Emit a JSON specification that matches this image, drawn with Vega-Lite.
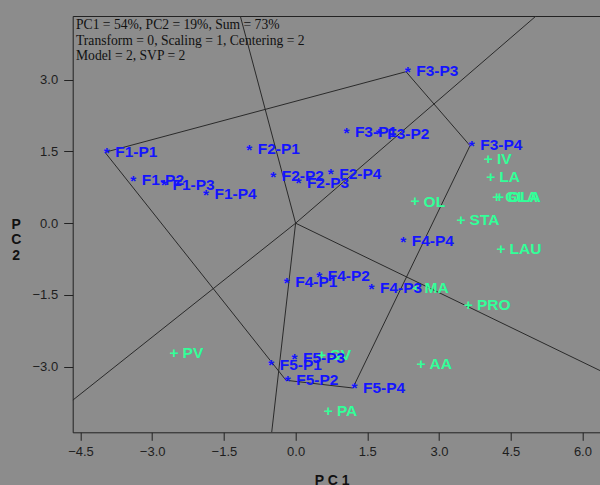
{
  "$schema": "https://vega.github.io/schema/vega-lite/v6.json",
  "width": 527.3,
  "height": 416.3,
  "autosize": "none",
  "padding": {"left": 72.7, "top": 16, "right": 0, "bottom": 52.7},
  "background": "#8c8c8c",
  "config": {
    "view": {"stroke": null, "fill": "#8c8c8c"},
    "axis": {"grid": false}
  },
  "datasets": {
    "pts": [
      {"name": "F1-P1", "grp": "F", "pc1": -3.987, "pc2": 1.482},
      {"name": "F1-P2", "grp": "F", "pc1": -3.431, "pc2": 0.890},
      {"name": "F1-P3", "grp": "F", "pc1": -2.789, "pc2": 0.800},
      {"name": "F1-P4", "grp": "F", "pc1": -1.910, "pc2": 0.596},
      {"name": "F2-P1", "grp": "F", "pc1": -1.006, "pc2": 1.532},
      {"name": "F2-P2", "grp": "F", "pc1": -0.504, "pc2": 0.974},
      {"name": "F2-P3", "grp": "F", "pc1": 0.023, "pc2": 0.842},
      {"name": "F2-P4", "grp": "F", "pc1": 0.699, "pc2": 1.030},
      {"name": "F3-P1", "grp": "F", "pc1": 1.027, "pc2": 1.900},
      {"name": "F3-P2", "grp": "F", "pc1": 1.703, "pc2": 1.864},
      {"name": "F3-P3", "grp": "F", "pc1": 2.310, "pc2": 3.166},
      {"name": "F3-P4", "grp": "F", "pc1": 3.649, "pc2": 1.620},
      {"name": "F4-P1", "grp": "F", "pc1": -0.222, "pc2": -1.235},
      {"name": "F4-P2", "grp": "F", "pc1": 0.458, "pc2": -1.116},
      {"name": "F4-P3", "grp": "F", "pc1": 1.552, "pc2": -1.360},
      {"name": "F4-P4", "grp": "F", "pc1": 2.215, "pc2": -0.385},
      {"name": "F5-P1", "grp": "F", "pc1": -0.546, "pc2": -2.963},
      {"name": "F5-P2", "grp": "F", "pc1": -0.201, "pc2": -3.283},
      {"name": "F5-P3", "grp": "F", "pc1": -0.059, "pc2": -2.836},
      {"name": "F5-P4", "grp": "F", "pc1": 1.197, "pc2": -3.444},
      {"name": "IV", "grp": "E", "pc1": 4.031, "pc2": 1.356},
      {"name": "LA", "grp": "E", "pc1": 4.082, "pc2": 0.986},
      {"name": "GLA", "grp": "E", "pc1": 4.207, "pc2": 0.554},
      {"name": "OLA", "grp": "E", "pc1": 4.265, "pc2": 0.554},
      {"name": "OL", "grp": "E", "pc1": 2.498, "pc2": 0.470},
      {"name": "STA", "grp": "E", "pc1": 3.460, "pc2": 0.088},
      {"name": "LAU", "grp": "E", "pc1": 4.297, "pc2": -0.525},
      {"name": "MA", "grp": "E", "pc1": 2.519, "pc2": -1.340},
      {"name": "PRO", "grp": "E", "pc1": 3.613, "pc2": -1.689},
      {"name": "AA", "grp": "E", "pc1": 2.623, "pc2": -2.928},
      {"name": "PA", "grp": "E", "pc1": 0.684, "pc2": -3.918},
      {"name": "SV", "grp": "E", "pc1": 0.546, "pc2": -2.734},
      {"name": "PV", "grp": "E", "pc1": -2.544, "pc2": -2.706}
    ],
    "segs": [
      {"pc1": -3.987, "pc2": 1.482, "pc1b": 2.310, "pc2b": 3.166},
      {"pc1": 2.310, "pc2": 3.166, "pc1b": 3.649, "pc2b": 1.620},
      {"pc1": 3.649, "pc2": 1.620, "pc1b": 1.197, "pc2b": -3.444},
      {"pc1": 1.197, "pc2": -3.444, "pc1b": -0.201, "pc2b": -3.283},
      {"pc1": -0.201, "pc2": -3.283, "pc1b": -3.987, "pc2b": 1.482},
      {"pc1": 0, "pc2": 0, "pc1b": -1.157, "pc2b": 4.33},
      {"pc1": 0, "pc2": 0, "pc1b": 5.03, "pc2b": 4.33},
      {"pc1": 0, "pc2": 0, "pc1b": 6.368, "pc2b": -3.08},
      {"pc1": 0, "pc2": 0, "pc1b": -0.50, "pc2b": -4.37},
      {"pc1": 0, "pc2": 0, "pc1b": -4.663, "pc2b": -3.70}
    ]
  },
  "resolve": {"axis": {"x": "independent", "y": "independent"}},
  "layer": [
    {
      "data": {"name": "segs"},
      "mark": {"type": "rule", "color": "#2a2a2a", "strokeWidth": 1, "clip": true},
      "encoding": {
        "x": {
          "field": "pc1", "type": "quantitative",
          "scale": {"domain": [-4.663, 6.368], "nice": false, "zero": false},
          "axis": {
            "orient": "bottom",
            "values": [-4.5, -3, -1.5, 0, 1.5, 3, 4.5, 6],
            "format": ".1f",
            "domainColor": "#222", "domainWidth": 1,
            "tickColor": "#222", "tickSize": 8, "tickWidth": 1,
            "labelFont": "Liberation Sans", "labelFontSize": 13, "labelColor": "#1e1e1e",
            "labelPadding": 5, "labelFlush": false, "labelOverlap": false,
            "title": "P C 1", "titleFont": "Liberation Sans", "titleFontSize": 14,
            "titleFontWeight": "bold", "titleColor": "#111",
            "titleX": 259, "titleY": 52.5, "titleBaseline": "alphabetic", "titleAlign": "center"
          }
        },
        "y": {
          "field": "pc2", "type": "quantitative",
          "scale": {"domain": [-4.37, 4.33], "nice": false, "zero": false},
          "axis": {
            "orient": "left",
            "values": [-3, -1.5, 0, 1.5, 3],
            "format": ".1f",
            "domainColor": "#222", "domainWidth": 1,
            "tickColor": "#222", "tickSize": 9, "tickWidth": 1,
            "labelFont": "Liberation Sans", "labelFontSize": 13, "labelColor": "#1e1e1e",
            "labelPadding": 6, "labelFlush": false, "labelOverlap": false,
            "title": ["P", "C", "2"], "titleFont": "Liberation Sans", "titleFontSize": 14,
            "titleFontWeight": "bold", "titleColor": "#111", "titleAngle": 0,
            "titleLineHeight": 15.5,
            "titleX": -57, "titleY": 208, "titleAlign": "center", "titleBaseline": "middle"
          }
        },
        "x2": {"field": "pc1b"},
        "y2": {"field": "pc2b"}
      }
    },
    {
      "data": {"name": "pts"},
      "transform": [{"filter": "datum.grp == 'E'"}],
      "mark": {"type": "text", "text": "+", "font": "Liberation Sans", "fontSize": 15.5, "fontWeight": "bold",
               "color": "#33ff99", "align": "center", "baseline": "alphabetic", "dy": 5.6},
      "encoding": {
        "x": {"field": "pc1", "type": "quantitative",
              "axis": {"orient": "top", "labels": false, "ticks": false, "title": null, "domainColor": "#222", "domainWidth": 1}},
        "y": {"field": "pc2", "type": "quantitative", "axis": null}
      }
    },
    {
      "data": {"name": "pts"},
      "transform": [{"filter": "datum.grp == 'E'"}],
      "mark": {"type": "text", "font": "Liberation Sans", "fontSize": 15.5, "fontWeight": "bold",
               "color": "#33ff99", "align": "left", "baseline": "alphabetic", "dx": 8.6, "dy": 5.8},
      "encoding": {
        "x": {"field": "pc1", "type": "quantitative", "axis": null},
        "y": {"field": "pc2", "type": "quantitative", "axis": null},
        "text": {"field": "name"}
      }
    },
    {
      "data": {"name": "pts"},
      "transform": [{"filter": "datum.grp == 'F'"}],
      "mark": {"type": "text", "text": "*", "font": "Liberation Sans", "fontSize": 15.5, "fontWeight": "bold",
               "color": "#1414ff", "align": "center", "baseline": "alphabetic", "dx": 1.7, "dy": 5.5},
      "encoding": {
        "x": {"field": "pc1", "type": "quantitative", "axis": null},
        "y": {"field": "pc2", "type": "quantitative", "axis": null}
      }
    },
    {
      "data": {"name": "pts"},
      "transform": [{"filter": "datum.grp == 'F'"}],
      "mark": {"type": "text", "font": "Liberation Sans", "fontSize": 15.5, "fontWeight": "bold",
               "color": "#1414ff", "align": "left", "baseline": "alphabetic", "dx": 10.2, "dy": 4.6},
      "encoding": {
        "x": {"field": "pc1", "type": "quantitative", "axis": null},
        "y": {"field": "pc2", "type": "quantitative", "axis": null},
        "text": {"field": "name"}
      }
    },
    {
      "data": {"values": [{}]},
      "mark": {"type": "text",
               "text": ["PC1 = 54%, PC2 = 19%, Sum = 73%", "Transform = 0, Scaling = 1, Centering = 2", "Model = 2, SVP = 2"],
               "font": "Liberation Serif", "fontSize": 13.6, "color": "#111", "lineHeight": 15.5,
               "align": "left", "baseline": "alphabetic", "dx": 3.3, "dy": 13.3},
      "encoding": {
        "x": {"datum": -4.663, "type": "quantitative", "axis": null},
        "y": {"datum": 4.33, "type": "quantitative", "axis": null}
      }
    }
  ]
}
